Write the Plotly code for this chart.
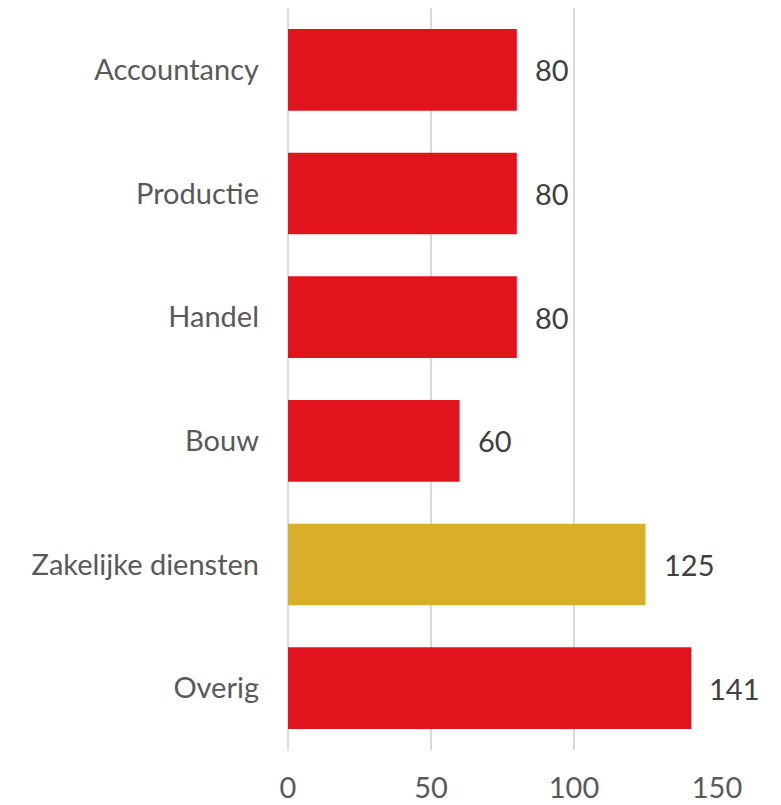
import plotly.graph_objects as go

categories = ["Accountancy", "Productie", "Handel", "Bouw", "Zakelijke diensten", "Overig"]
values = [80, 80, 80, 60, 125, 141]
colors = ["#E1141E", "#E1141E", "#E1141E", "#E1141E", "#D9AE2A", "#E1141E"]
x_ticks = [0, 50, 100, 150]

cats_rev = categories[::-1]
vals_rev = values[::-1]
cols_rev = colors[::-1]

fig = go.Figure(go.Bar(
    y=cats_rev, x=vals_rev, orientation="h",
    marker=dict(color=cols_rev, line=dict(width=0)),
    cliponaxis=False,
))

for c, v in zip(cats_rev, vals_rev):
    fig.add_annotation(x=v, y=c, text=str(v), showarrow=False, xanchor="left",
                       xshift=16, font=dict(family="Lato", size=29, color="#404040"))

fig.update_layout(
    width=773, height=797,
    margin=dict(l=280, r=64, t=0, b=55),
    paper_bgcolor="white", plot_bgcolor="white",
    bargap=0.34, showlegend=False,
    font=dict(family="Lato", size=29, color="#595959"),
)
fig.update_xaxes(range=[0, 150], tickvals=x_ticks, showgrid=True, gridcolor="#D9D9D9",
                 gridwidth=1.5, zeroline=True, zerolinecolor="#D9D9D9", zerolinewidth=1.5,
                 showline=False, ticks="", ticklabelstandoff=18, automargin=False,
                 tickfont=dict(family="Lato", size=29, color="#595959"))
fig.update_yaxes(showgrid=False, showline=False, ticks="", ticklabelstandoff=28,
                 automargin=False,
                 tickfont=dict(family="Lato", size=29, color="#595959"))

fig.write_html("out.html")
